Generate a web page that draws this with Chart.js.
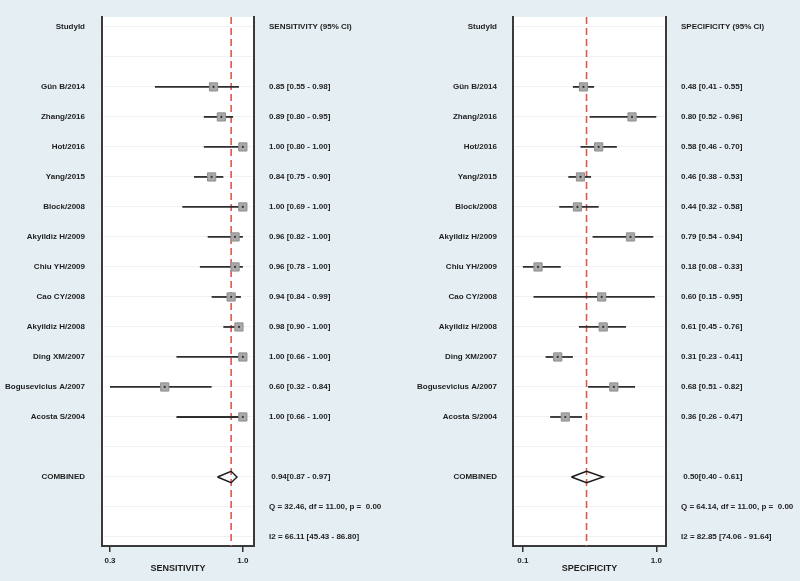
<!DOCTYPE html>
<html>
<head>
<meta charset="utf-8">
<title>Forest plot - sensitivity / specificity</title>
<script src="https://cdn.jsdelivr.net/npm/chart.js@4.4.1/dist/chart.umd.min.js"></script>
<style>
  html, body { margin:0; padding:0; background:#e5eef2; }
  #wrap { position:relative; width:800px; height:581px; overflow:hidden; }
  canvas { position:absolute; top:0; }
</style>
</head>
<body>
<div id="wrap">
  <canvas id="chartSens" width="400" height="581" style="left:0"></canvas>
  <canvas id="chartSpec" width="400" height="581" style="left:400px"></canvas>
</div>
<script>
// studies, top to bottom
const studies = ["Gün B/2014", "Zhang/2016", "Hot/2016", "Yang/2015", "Block/2008",
  "Akyildiz H/2009", "Chiu YH/2009", "Cao CY/2008", "Akyildiz H/2008", "Ding XM/2007",
  "Bogusevicius A/2007", "Acosta S/2004"];

const sensEst = [0.85, 0.89, 1.00, 0.84, 1.00, 0.96, 0.96, 0.94, 0.98, 1.00, 0.60, 1.00];
const sensLo  = [0.55, 0.80, 0.80, 0.75, 0.69, 0.82, 0.78, 0.84, 0.90, 0.66, 0.32, 0.66];
const sensHi  = [0.98, 0.95, 1.00, 0.90, 1.00, 1.00, 1.00, 0.99, 1.00, 1.00, 0.84, 1.00];
const sensPooled = [0.94, 0.87, 0.97];
const sensStats = ["Q = 32.46, df = 11.00, p =  0.00", "I2 = 66.11 [45.43 - 86.80]"];

const specEst = [0.48, 0.80, 0.58, 0.46, 0.44, 0.79, 0.18, 0.60, 0.61, 0.31, 0.68, 0.36];
const specLo  = [0.41, 0.52, 0.46, 0.38, 0.32, 0.54, 0.08, 0.15, 0.45, 0.23, 0.51, 0.26];
const specHi  = [0.55, 0.96, 0.70, 0.53, 0.58, 0.94, 0.33, 0.95, 0.76, 0.41, 0.82, 0.47];
const specPooled = [0.50, 0.40, 0.61];
const specStats = ["Q = 64.14, df = 11.00, p =  0.00", "I2 = 82.85 [74.06 - 91.64]"];

const FONT = "'Liberation Sans', Arial, Helvetica, sans-serif";
const TXT = "#1e1e1e";
const Y_MIN = -0.33, Y_MAX = 17.3;
const ROW_FIRST = 2;
const ROW_COMBINED = ROW_FIRST + studies.length + 1;

function ci(e, l, h){ return e.toFixed(2) + " [" + l.toFixed(2) + " - " + h.toFixed(2) + "]"; }

// white plot area on the blue-grey page
const plotBg = {
  id: "plotBg",
  beforeDraw(chart){
    const a = chart.chartArea, ctx = chart.ctx;
    ctx.save();
    ctx.fillStyle = "#ffffff";
    ctx.fillRect(a.left, a.top, a.right - a.left, a.bottom - a.top);
    ctx.restore();
  }
};

function makeForest(canvasId, o){
  const leftLabels = ["StudyId", ""].concat(studies, ["", "COMBINED", "", ""]);
  const rightLabels = [o.header, ""].concat(
    studies.map((s, i) => ci(o.est[i], o.lo[i], o.hi[i])),
    ["", " " + o.pooled[0].toFixed(2) + "[" + o.pooled[1].toFixed(2) + " - " + o.pooled[2].toFixed(2) + "]"],
    o.stats
  );
  const tickVals = [Math.min(...o.lo), Math.max(...o.hi)];
  const p = o.pooled;
  const h = 0.19;

  const datasets = [];
  datasets.push({ // centre dots
    data: o.est.map((e, i) => ({x: e, y: ROW_FIRST + i})),
    pointRadius: 1.1, backgroundColor: "#333", borderWidth: 0
  });
  datasets.push({ // study squares
    data: o.est.map((e, i) => ({x: e, y: ROW_FIRST + i})),
    pointStyle: "rect", pointRadius: 5.8,
    backgroundColor: "#a9a9a9", borderColor: "#8e8e8e", borderWidth: 1
  });
  o.lo.forEach((l, i) => {
    datasets.push({
      data: [{x: l, y: ROW_FIRST + i}, {x: o.hi[i], y: ROW_FIRST + i}],
      showLine: true, pointRadius: 0, borderColor: "#2e2e2e", borderWidth: 1.8
    });
  });
  datasets.push({ // pooled diamond
    data: [{x: p[1], y: ROW_COMBINED}, {x: p[0], y: ROW_COMBINED - h},
           {x: p[2], y: ROW_COMBINED}, {x: p[0], y: ROW_COMBINED + h},
           {x: p[1], y: ROW_COMBINED}],
    showLine: true, pointRadius: 0, borderColor: "#1a1a1a", borderWidth: 1.4, fill: false
  });
  datasets.push({ // pooled reference line
    data: [{x: p[0], y: Y_MIN}, {x: p[0], y: Y_MAX}],
    showLine: true, pointRadius: 0, borderColor: "#e0574c", borderWidth: 1.6,
    borderDash: [7, 4]
  });

  return new Chart(document.getElementById(canvasId), {
    type: "scatter",
    data: { datasets },
    plugins: [plotBg],
    options: {
      responsive: false,
      animation: false,
      layout: { padding: { top: 17, left: 0, right: 0, bottom: 0 } },
      plugins: { legend: { display: false }, tooltip: { enabled: false } },
      scales: {
        x: {
          type: "linear", min: o.xMin, max: o.xMax,
          afterBuildTicks: s => { s.ticks = tickVals.map(v => ({value: v})); },
          afterFit: s => { s.height = 35; s.paddingLeft = 0; s.paddingRight = 0; },
          ticks: {
            padding: 4, maxRotation: 0, color: TXT,
            font: { family: FONT, size: 8, weight: "bold" },
            callback: v => Number(v).toFixed(1)
          },
          grid: { drawOnChartArea: false, drawTicks: true, tickLength: 6, color: "#333", lineWidth: 1.5 },
          border: { display: true, color: "#3a3a3a", width: 2 },
          title: {
            display: true, text: o.axisTitle, color: TXT,
            font: { family: FONT, size: 9, weight: "bold" },
            padding: { top: 0, bottom: 7.5 }
          }
        },
        y: {
          type: "linear", position: "left", reverse: true, min: Y_MIN, max: Y_MAX,
          afterBuildTicks: s => { s.ticks = leftLabels.map((_, i) => ({value: i})); },
          afterFit: s => { s.width = o.leftW; s.paddingTop = 0; s.paddingBottom = 0; },
          ticks: {
            padding: o.leftPad, color: TXT,
            font: { family: FONT, size: 8, weight: "bold" },
            callback: (v, i) => leftLabels[i]
          },
          grid: { color: "#eef2f4", lineWidth: 1, drawTicks: false },
          border: { display: true, color: "#3a3a3a", width: 2 }
        },
        y2: {
          type: "linear", position: "right", reverse: true, min: Y_MIN, max: Y_MAX,
          afterBuildTicks: s => { s.ticks = rightLabels.map((_, i) => ({value: i})); },
          afterFit: s => { s.width = o.rightW; s.paddingTop = 0; s.paddingBottom = 0; },
          ticks: {
            padding: 15, color: TXT,
            font: { family: FONT, size: 8, weight: "bold" },
            callback: (v, i) => rightLabels[i]
          },
          grid: { drawOnChartArea: false, drawTicks: false },
          border: { display: true, color: "#3a3a3a", width: 2 }
        }
      }
    }
  });
}

makeForest("chartSens", {
  est: sensEst, lo: sensLo, hi: sensHi, pooled: sensPooled, stats: sensStats,
  header: "SENSITIVITY (95% CI)", axisTitle: "SENSITIVITY",
  xMin: 0.279, xMax: 1.057, leftW: 102, rightW: 146, leftPad: 17
});

makeForest("chartSpec", {
  est: specEst, lo: specLo, hi: specHi, pooled: specPooled, stats: specStats,
  header: "SPECIFICITY (95% CI)", axisTitle: "SPECIFICITY",
  xMin: 0.015, xMax: 1.024, leftW: 113, rightW: 134, leftPad: 16
});
</script>
</body>
</html>
